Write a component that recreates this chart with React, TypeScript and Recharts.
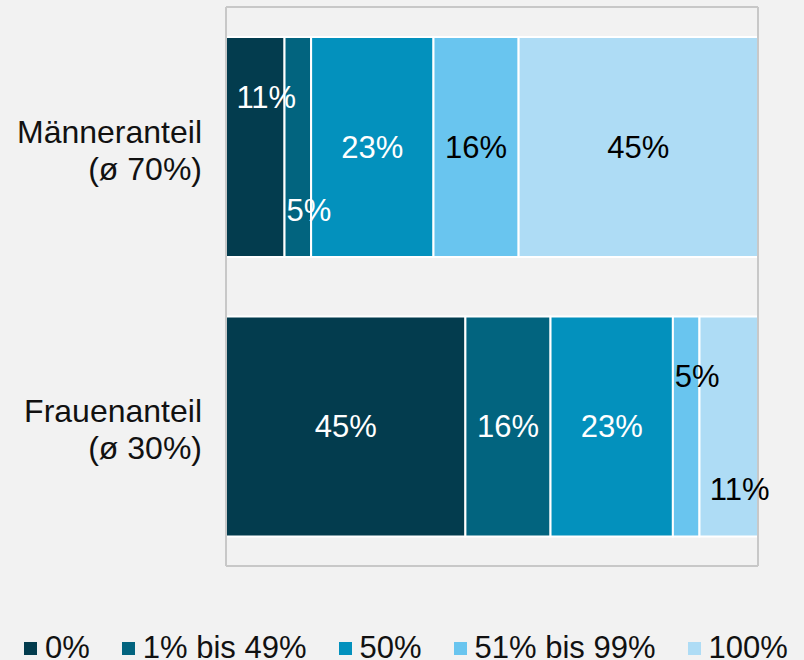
import { Bar, BarChart, CartesianGrid, LabelList, Legend, XAxis, YAxis } from 'recharts'

const categories = ['Männeranteil', 'Frauenanteil']
const shares = ['(ø 70%)', '(ø 30%)']
const seriesNames = ['0%', '1% bis 49%', '50%', '51% bis 99%', '100%']
const seriesColors = ['#033c4e', '#02647f', '#0391bd', '#69c5ef', '#aedcf5']
const xTicks = [0, 100]

const none = [11, 45]
const some = [5, 16]
const half = [23, 23]
const most = [16, 5]
const all = [45, 11]

const seriesValues = [none, some, half, most, all]
const keys = ['s0', 's1', 's2', 's3', 's4']

const rows = categories.map((name, i) => {
  const row: Record<string, string | number> = { name, share: shares[i] }
  keys.forEach((k, s) => {
    row[k] = seriesValues[s][i]
  })
  return row
})

const font = 'Liberation Sans, Arial, sans-serif'
const frame = { stroke: '#c8c8c8', strokeWidth: 2 }

const CategoryTick = (props: any) => {
  const { x, y, payload } = props
  const i = categories.indexOf(payload.value)
  return (
    <text x={x} y={y} textAnchor='end' fontSize={32} fontFamily={font} fill='#111'>
      <tspan x={x} dy={-4}>{payload.value}</tspan>
      <tspan x={x} dy={37}>{shares[i]}</tspan>
    </text>
  )
}

const makeLabel = (s: number) => (props: any) => {
  const box = props.viewBox ?? props
  const { x, y, width, height } = box
  const { value, index } = props
  let dx = 0
  let dy = 0
  if (value <= 11) {
    const prevSmall = s > 0 && seriesValues[s - 1][index] <= 11
    dy = prevSmall ? 63 : -50
    dx = 11
  }
  return (
    <text
      x={x + width / 2 + dx}
      y={y + height / 2 + dy}
      textAnchor='middle'
      dominantBaseline='central'
      fontSize={31}
      fontFamily={font}
      fill={s < 3 ? '#ffffff' : '#000000'}
    >
      {value}%
    </text>
  )
}

const LegendContent = (props: any) => {
  const items = [...(props.payload || [])].sort(
    (a: any, b: any) => seriesNames.indexOf(a.value) - seriesNames.indexOf(b.value),
  )
  return (
    <div
      style={{
        display: 'flex',
        alignItems: 'center',
        height: 34,
        lineHeight: '34px',
        fontSize: 31,
        fontFamily: font,
        color: '#111',
        paddingLeft: 24,
        whiteSpace: 'nowrap',
      }}
    >
      {items.map((p: any) => (
        <div key={p.value} style={{ display: 'flex', alignItems: 'center', marginRight: 32 }}>
          <span style={{ width: 13, height: 13, background: p.color, marginRight: 8, display: 'inline-block' }} />
          <span>{p.value}</span>
        </div>
      ))}
    </div>
  )
}

export default function App() {
  return (
    <div
      style={{
        position: 'fixed',
        top: 0,
        left: 0,
        width: 804,
        height: 660,
        background: '#f2f2f2',
        overflow: 'hidden',
      }}
    >
      <BarChart
        layout='vertical'
        width={804}
        height={660}
        data={rows}
        margin={{ top: 6, right: 45, bottom: 59, left: 0 }}
        barSize={220}
      >
        <CartesianGrid horizontal={false} stroke='#c8c8c8' strokeWidth={2} />
        <XAxis
          type='number'
          domain={[0, 100]}
          ticks={xTicks}
          tick={false}
          tickLine={false}
          axisLine={frame}
          height={1}
        />
        <XAxis
          xAxisId='top'
          orientation='top'
          type='number'
          domain={[0, 100]}
          tick={false}
          tickLine={false}
          axisLine={frame}
          height={1}
        />
        <YAxis
          type='category'
          dataKey='name'
          width={226}
          tickSize={0}
          tickMargin={24}
          tickLine={false}
          axisLine={frame}
          tick={<CategoryTick />}
        />
        <YAxis
          yAxisId='right'
          orientation='right'
          type='category'
          dataKey='name'
          width={1}
          tick={false}
          tickLine={false}
          axisLine={frame}
        />
        <Legend
          content={<LegendContent />}
          verticalAlign='bottom'
          wrapperStyle={{ top: 631, left: 0, width: 804 }}
        />
        {keys.map((k, s) => (
          <Bar
            key={k}
            dataKey={k}
            name={seriesNames[s]}
            stackId='a'
            fill={seriesColors[s]}
            stroke='#ffffff'
            strokeWidth={2}
            isAnimationActive={false}
          >
            <LabelList dataKey={k} content={makeLabel(s)} />
          </Bar>
        ))}
      </BarChart>
    </div>
  )
}
